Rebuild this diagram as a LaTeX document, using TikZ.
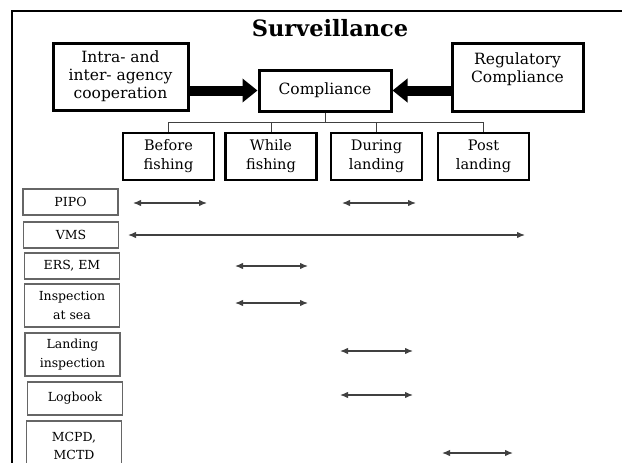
\documentclass[tikz,border=0pt]{standalone}
\usepackage{fontspec}
\setmainfont{DejaVu Serif}
\usetikzlibrary{arrows.meta}
\begin{document}
\begin{tikzpicture}[x=1pt,y=-1pt,
  bigbox/.style={draw=black, line width=3pt, align=center, inner sep=0pt,
    font=\fontsize{15.5}{18}\selectfont},
  phasebox/.style={draw=black, line width=2.6pt, minimum width=91pt,
    minimum height=47pt, align=center, inner sep=0pt,
    font=\fontsize{14.5}{19}\selectfont},
  rowbox/.style={draw=black!60, line width=1.2pt, align=center, inner sep=0pt,
    minimum width=95pt, font=\fontsize{12.5}{18.5}\selectfont},
  span/.style={{Latex[length=8pt,width=6.5pt]}-{Latex[length=8pt,width=6.5pt]},
    draw=black!75, line width=1.3pt},
  fat/.style={-{Triangle[length=15pt,width=23pt]}, line width=10pt},
  tree/.style={draw=black!75, line width=0.9pt},
]
\clip (0,0) rectangle (622,463);
\fill[white] (0,0) rectangle (622,463);

% frame: top rule and left rule
\draw[line width=2.5pt] (12,480) -- (12,11) -- (622,11);

\node[font=\fontsize{22.5}{26}\selectfont\bfseries] (title) at (330,28) {Surveillance};

% upper block
\node[bigbox, minimum width=135pt, minimum height=67pt] (intra) at (120.5,76.5)
  {Intra- and\\inter- agency\\cooperation};
\node[bigbox, minimum width=132pt, minimum height=41pt] (comp) at (325,90.5)
  {Compliance};
\node[bigbox, minimum width=131pt, minimum height=68pt] (reg) at (517.5,77)
  {Regulatory\\Compliance\\~};

\draw[fat] (intra.east |- comp.west) -- (comp.west);
\draw[fat] (reg.west |- comp.east) -- (comp.east);

% phases
\node[phasebox] (before) at (168.5,156.5) {Before\\fishing};
\node[phasebox] (while)  at (271,156.5)   {While\\fishing};
\node[phasebox] (during) at (376.5,156.5) {During\\landing};
\node[phasebox] (post)   at (483.5,156.5) {Post\\landing};

\coordinate (bus) at (0,122);
\draw[tree] (comp.south) -- (comp.south |- bus);
\draw[tree] (before.north) -- (before.north |- bus) -- (post.north |- bus) -- (post.north);
\draw[tree] (while.north) -- (while.north |- bus);
\draw[tree] (during.north) -- (during.north |- bus);

% instruments
\node[rowbox, minimum height=26pt] (pipo) at (70.5,202)   {PIPO};
\node[rowbox, minimum height=26pt] (vms)  at (71,235)     {VMS};
\node[rowbox, minimum height=26pt] (ers)  at (72,266)     {ERS, EM};
\node[rowbox, minimum height=43pt] (insp) at (72,305.5)   {Inspection\\at sea};
\node[rowbox, minimum height=43pt] (land) at (72.5,354.5) {Landing\\inspection};
\node[rowbox, minimum height=33pt] (log)  at (75,398.5)   {Logbook};
\node[rowbox, minimum height=50pt] (mcpd) at (74,446)     {MCPD,\\MCTD};

% time spans of each instrument
\coordinate (pipoA) at (133,203); \coordinate (pipoB) at (207,203);
\coordinate (pipoC) at (342,203); \coordinate (pipoD) at (416,203);
\coordinate (vmsA)  at (128,235); \coordinate (vmsB)  at (525,235);
\coordinate (ersA)  at (235,266); \coordinate (ersB)  at (308,266);
\coordinate (inspA) at (235,303); \coordinate (inspB) at (308,303);
\coordinate (landA) at (340,351); \coordinate (landB) at (413,351);
\coordinate (logA)  at (340,395); \coordinate (logB)  at (413,395);
\coordinate (mcpdA) at (442,453); \coordinate (mcpdB) at (513,453);

\draw[span] (pipoA) -- (pipoB);
\draw[span] (pipoC) -- (pipoD);
\draw[span] (vmsA) -- (vmsB);
\draw[span] (ersA) -- (ersB);
\draw[span] (inspA) -- (inspB);
\draw[span] (landA) -- (landB);
\draw[span] (logA) -- (logB);
\draw[span] (mcpdA) -- (mcpdB);
\end{tikzpicture}
\end{document}
